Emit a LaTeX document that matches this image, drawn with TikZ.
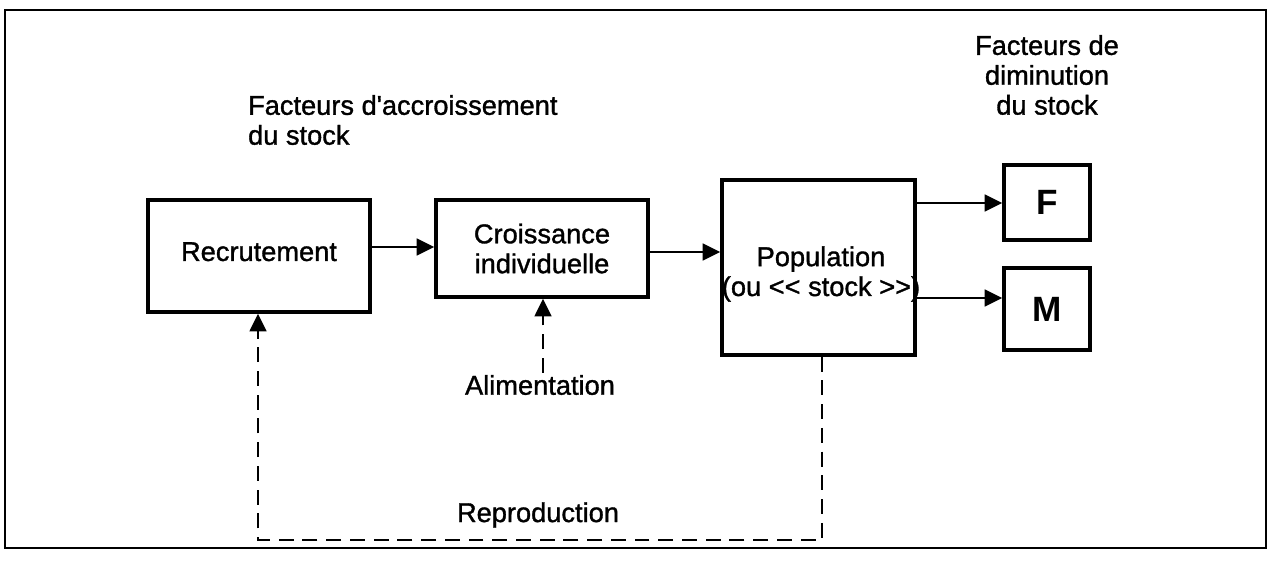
\documentclass[tikz,border=0pt]{standalone}
\usepackage{fontspec}
\setmainfont{Liberation Sans}
\newfontfamily\heavy{Liberation Sans}[FakeBold=1.2]
\newfontfamily\boldbox{Liberation Sans Bold}
\usetikzlibrary{arrows.meta}
\begin{document}
\begin{tikzpicture}[x=0.02cm,y=-0.02cm,
  every node/.style={font=\fontsize{15.5}{17}\selectfont\heavy},
  box/.style={draw,line width=2pt,inner sep=0pt},
  lbl/.style={inner sep=1pt},
  tip/.style={-{Triangle[length=10pt,width=9.5pt]}},
  arr/.style={line width=1.3pt,tip},
  dsh/.style={line width=1.3pt,dash pattern=on 8.5pt off 5pt}]
\useasboundingbox (0,0) rectangle (1270,564);
\draw[line width=1.2pt] (5,10) rectangle (1266,548);
\node[box,minimum width=4.44cm,minimum height=2.24cm] (rec) at (259,256) {\raisebox{5pt}{Recrutement}};
\node[box,minimum width=4.24cm,minimum height=1.94cm,align=center] (cro) at (542,248.5) {Croissance\\individuelle};
\node[box,minimum width=3.86cm,minimum height=3.5cm] (pop) at (818.5,267.5) {};
\node[lbl,align=center] (poptxt) at (821,274) {Population\\(ou {<}{<} stock {>}{>})};
\node[box,minimum width=1.72cm,minimum height=1.5cm,font=\fontsize{20}{20}\selectfont\boldbox] (F) at (1047,202.5) {F};
\node[box,minimum width=1.72cm,minimum height=1.64cm,font=\fontsize{20}{20}\selectfont\boldbox] (M) at (1047,309) {M};
\node[lbl,anchor=west,align=left] (acc) at (246,120) {Facteurs d\textquotesingle accroissement\\du stock};
\node[lbl,align=center] (dim) at (1047,75) {Facteurs de\\diminution\\du stock};
\node[lbl] (ali) at (540,385) {Alimentation};
\node[lbl] (rep) at (538,515) {Reproduction};
\draw[arr] (rec.east |- 0,247) -- (cro.west |- 0,247);
\draw[arr] (cro.east |- 0,252) -- (pop.west |- 0,252);
\draw[arr] (pop.east |- 0,203) -- (F.west |- 0,203);
\draw[arr] (pop.east |- 0,298) -- (M.west |- 0,298);
\draw[dsh,tip] (ali.north -| 543,0) -- (cro.south -| 543,0);
\draw[dsh,tip] (pop.south -| 822,0) -- (822,540) -- (258,540) -- (rec.south -| 258,0);
\end{tikzpicture}
\end{document}
